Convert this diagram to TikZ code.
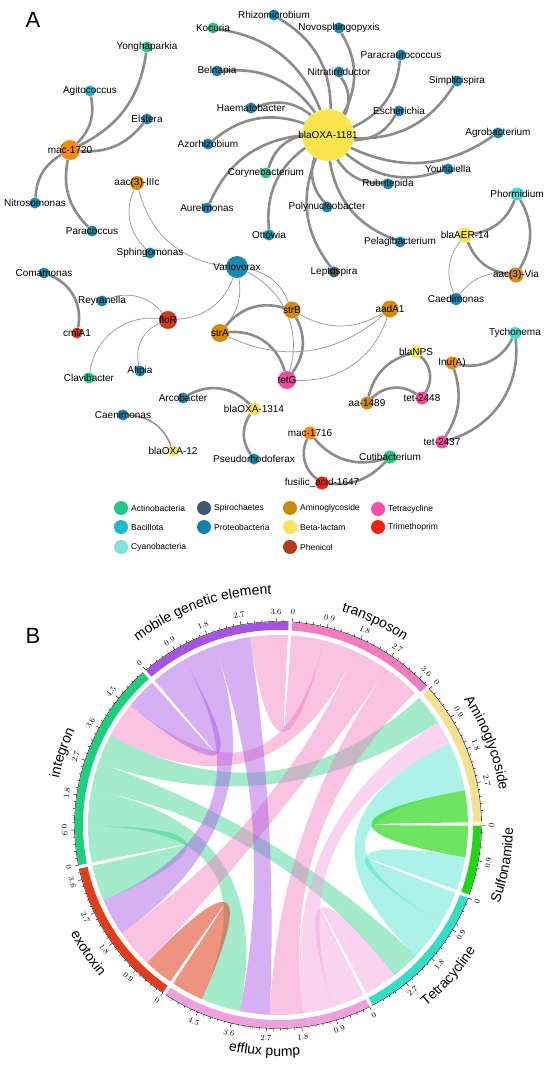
\documentclass[tikz,border=0pt]{standalone}
\usepackage{fontspec}
\setmainfont{Liberation Sans}
\usetikzlibrary{backgrounds,decorations.text,calc}
% legend / node colours
\definecolor{cActino}{HTML}{1FC98A}
\definecolor{cSpiro}{HTML}{3E5A73}
\definecolor{cAmino}{HTML}{C98C0C}
\definecolor{cTetra}{HTML}{F552A6}
\definecolor{cBacil}{HTML}{1BBACF}
\definecolor{cProt}{HTML}{1482A8}
\definecolor{cBeta}{HTML}{FBE35E}
\definecolor{cTrim}{HTML}{F51F0C}
\definecolor{cCyano}{HTML}{7EE2DA}
\definecolor{cPhen}{HTML}{B63A18}
\definecolor{nAmino}{HTML}{D68B0B}
\definecolor{nOrange}{HTML}{F58A0A}
\definecolor{nCyano}{HTML}{3CDFD6}
\definecolor{nBeta}{HTML}{FBE54E}
\definecolor{nTetra}{HTML}{F04A9E}
\definecolor{nPhen}{HTML}{CF3A14}
\definecolor{nRed}{HTML}{F2200C}
\definecolor{nProt}{HTML}{1788AE}
\definecolor{edgegray}{HTML}{8C8C8C}
\definecolor{edgegraylt}{HTML}{9C9C9C}
% chord colours
\definecolor{sMGE}{HTML}{A652E4}
\definecolor{sTrans}{HTML}{F27CBD}
\definecolor{sAmino}{HTML}{F7E08F}
\definecolor{sSulf}{HTML}{1FD80F}
\definecolor{sTet}{HTML}{30E0C6}
\definecolor{sEff}{HTML}{F0A0DD}
\definecolor{sExo}{HTML}{E33C1B}
\definecolor{sInt}{HTML}{1ACF7E}

\tikzset{
  gnode/.style={circle, draw=none, inner sep=0pt},
  lab/.style={font=\fontsize{10}{12}\selectfont, inner sep=0pt, text=black},
  thk/.style={draw=edgegray, line width=2.6pt},
  thn/.style={draw=edgegraylt, line width=0.75pt},
  med/.style={draw=edgegray, line width=1.4pt},
  legdot/.style={circle, draw=none, minimum size=14pt, inner sep=0pt},
  legtext/.style={font=\fontsize{8.5}{10}\selectfont, inner sep=0pt, anchor=west},
  ticklab/.style={font=\fontsize{8}{9}\selectfont, inner sep=0pt},
  axisline/.style={draw=black, line width=0.4pt},
  panellab/.style={font=\fontsize{22}{24}\selectfont, inner sep=0pt}
}
\newcommand{\gn}[6]{%
  \node[gnode, fill=#5, minimum size=#6pt] (#1) at (#2,-#3) {};
  \node[lab] (#1-t) at (#1) {#4};}
\newcommand{\rib}[6]{%
  \fill[#1, fill opacity=#2] (#3:190) arc[start angle=#3, end angle=#4, radius=190]
    .. controls (#4:63.33) and (#5:63.33) .. (#5:190)
    arc[start angle=#5, end angle=#6, radius=190]
    .. controls (#6:63.33) and (#3:63.33) .. (#3:190) -- cycle;}
\newcommand{\chsect}[3]{%
  \fill[#3] (#1:195) arc[start angle=#1, end angle=#2, radius=195] -- (#2:203)
    arc[start angle=#2, end angle=#1, radius=203] -- cycle;}
\newcommand{\sectax}[4]{%
  \draw[axisline] (#1:203.5) arc[start angle=#1, end angle=#2, radius=203.5];
  \foreach \k in {0,...,#3}{%
    \pgfmathsetmacro{\ta}{#1-\k*1.998}%
    \pgfmathtruncatemacro{\mj}{mod(\k,5)==0}%
    \ifnum\mj=1
      \draw[axisline] (\ta:203.5) -- (\ta:207.5);
      \pgfmathsetmacro{\tv}{\k*0.18}%
      \pgfmathsetmacro{\tr}{sin(\ta)>=0 ? \ta-90 : \ta+90}%
      \node[ticklab, rotate=\tr] (#4-\k) at (\ta:213.5) {\pgfmathprintnumber[fixed,precision=1]{\tv}};
    \else
      \draw[axisline] (\ta:203.5) -- (\ta:205.5);
    \fi
  }}
\newcommand{\seclabfont}{\fontsize{14}{16}\selectfont}
\newcommand{\seclabtop}[3]{%
  \path[decorate, decoration={text along path, text align=center, text={|\seclabfont|#3}}]
    ({#1+70}:#2) arc[start angle={#1+70}, end angle={#1-70}, radius=#2];}
\newcommand{\seclabbot}[3]{%
  \path[decorate, decoration={text along path, text align=center, text={|\seclabfont|#3}}]
    ({#1-70}:#2) arc[start angle={#1-70}, end angle={#1+70}, radius=#2];}

\begin{document}
\begin{tikzpicture}[x=1pt,y=1pt]
\useasboundingbox (0,0) rectangle (550,-1067);

\node[panellab] (pA) at (33,-20) {A};
\node[panellab] (pB) at (33,-636) {B};

% ---------------- network nodes ----------------
\gn{hub}{328}{135}{blaOXA-1181}{nBeta}{52}
\gn{kocu}{213}{28}{Kocuria}{cActino}{11}
\gn{rhiz}{274}{15}{Rhizomicrobium}{nProt}{11}
\gn{novo}{339}{28}{Novosphingopyxis}{nProt}{11}
\gn{nitr}{339}{72}{Nitratireductor}{nProt}{11}
\gn{parc}{401}{55}{Paracraurococcus}{nProt}{11}
\gn{simp}{457}{81}{Simplicispira}{nProt}{11}
\gn{esch}{399}{111}{Escherichia}{nProt}{11}
\gn{agro}{498}{133}{Agrobacterium}{nProt}{11}
\gn{youh}{448}{169}{Youhaiella}{nProt}{11}
\gn{rubr}{388}{184}{Rubritepida}{nProt}{11}
\gn{pela}{400}{242}{Pelagibacterium}{nProt}{11}
\gn{poly}{327}{207}{Polynucleobacter}{nProt}{11}
\gn{lept}{334}{272}{Leptospira}{cSpiro}{11}
\gn{otto}{269}{235}{Ottowia}{nProt}{11}
\gn{aure}{207}{208}{Aurelmonas}{nProt}{11}
\gn{cory}{266}{173}{Corynebacterium}{cActino}{11}
\gn{azor}{208}{144}{Azorhizobium}{nProt}{11}
\gn{haem}{251}{108}{Haematobacter}{nProt}{11}
\gn{beln}{217}{71}{Belnapia}{nProt}{11}

\gn{mac1}{70}{150}{mac-1720}{nOrange}{20}
\gn{yong}{147}{47}{Yonghaparkia}{cActino}{11}
\gn{agit}{90}{91}{Agitococcus}{cBacil}{11}
\gn{elst}{147}{119}{Elstera}{nProt}{11}
\gn{nitro}{35}{203}{Nitrosomonas}{nProt}{11}
\gn{parco}{92}{231}{Paracoccus}{nProt}{11}

\gn{aac3}{137}{183}{aac(3)-IIIc}{nAmino}{14}
\gn{sphi}{150}{253}{Sphingomonas}{nProt}{11}
\gn{vari}{237}{267}{Variovorax}{nProt}{22}
\gn{coma}{44}{273}{Comamonas}{nProt}{11}
\gn{reyr}{102}{301}{Reyranella}{nProt}{11}
\gn{flor}{168}{320}{floR}{nPhen}{18}
\gn{cmla}{77}{333}{cmlA1}{nPhen}{11}
\gn{clav}{89}{378}{Clavibacter}{cActino}{11}
\gn{afip}{140}{371}{Afipia}{nProt}{11}
\gn{stra}{220}{333}{strA}{nAmino}{18}
\gn{strb}{292}{310}{strB}{nAmino}{17}
\gn{aada}{390}{309}{aadA1}{nAmino}{17}
\gn{tetg}{287}{380}{tetG}{nTetra}{18}

\gn{blaer}{465}{235}{blaAER-14}{nBeta}{15}
\gn{phor}{517}{194}{Phormidium}{nCyano}{13}
\gn{aac6}{516}{275}{aac(3)-Via}{nAmino}{15}
\gn{caed}{456}{299}{Caedimonas}{nProt}{12}
\gn{tych}{515}{333}{Tychonema}{nCyano}{12}
\gn{blanps}{416}{352}{blaNPS}{nBeta}{12}
\gn{inua}{452}{363}{Inu(A)}{nOrange}{13}
\gn{aa14}{367}{403}{aa-1489}{nAmino}{13}
\gn{tb}{422}{398}{tet-2448}{nTetra}{13}
\gn{ta}{442}{442}{tet-2437}{nTetra}{13}
\gn{mac2}{310}{433}{mac-1716}{nOrange}{13}
\gn{cuti}{390}{457}{Cutibacterium}{cActino}{13}
\gn{fusi}{322}{483}{fusilic\_acid-1647}{nRed}{13}
\gn{arco}{183}{398}{Arcobacter}{nProt}{11}
\gn{oxab}{254}{409}{blaOXA-1314}{nBeta}{13}
\gn{pseu}{254}{459}{Pseudorhodoferax}{nProt}{11}
\gn{caen}{123}{415}{Caenimonas}{nProt}{11}
\gn{oxaa}{173}{451}{blaOXA-12}{nBeta}{11}

% ---------------- network edges ----------------
\begin{scope}[on background layer]
\fill[white] (0,0) rectangle (550,-1067);
\foreach \t in {kocu,rhiz,novo,nitr,parc,simp,esch,agro,youh,rubr,pela,poly,lept,otto,aure,cory,azor,haem,beln}
  \draw[thk] (hub) to[bend right=30] (\t);
\foreach \t in {yong,agit,elst,nitro,parco}
  \draw[thk] (mac1) to[bend right=28] (\t);
\draw[thn] (aac3) to[bend right=35] (sphi);
\draw[thn] (aac3) to[bend right=35] (vari);
\draw[thk] (cmla) to[bend right=40] (coma);
\draw[thn] (flor) to[bend right=36] (reyr);
\draw[thn] (flor) to[bend right=45] (clav);
\draw[thn] (flor) to[bend right=40] (afip);
\draw[thn] (flor) to[bend right=33] (vari);
\draw[thn] (stra) to[bend right=24] (vari);
\draw[thn] (strb) to[bend right=28] (vari);
\draw[thn] (tetg) to[bend right=40] (vari);
\draw[thk] (stra) to[bend left=33] (strb);
\draw[thk] (stra) to[bend left=40] (tetg);
\draw[thk] (strb) to[bend left=32] (tetg);
\draw[thn] (strb) to[bend right=30] (aada);
\draw[thn] (stra) to[bend right=33] (aada);
\draw[thn] (tetg) to[bend right=37] (aada);
\draw[thk] (blaer) to[bend right=30] (phor);
\draw[thk] (aac6) to[bend right=30] (phor);
\draw[thk] (blaer) to[bend right=30] (aac6);
\draw[thn] (blaer) to[bend right=30] (caed);
\draw[thn] (aac6) to[bend right=30] (caed);
\draw[thk] (inua) to[bend right=38] (tych);
\draw[thk] (ta) to[bend right=40] (tych);
\draw[thk] (ta) to[bend right=25] (inua);
\draw[thk] (blanps) to[bend right=30] (aa14);
\draw[thk] (tb) to[bend right=40] (blanps);
\draw[thk] (tb) to[bend right=40] (aa14);
\draw[thk] (mac2) to[bend right=34] (cuti);
\draw[thk] (mac2) to[bend right=39] (fusi);
\draw[thk] (fusi) to[bend right=26] (cuti);
\draw[thk] (oxab) to[bend right=38] (arco);
\draw[thk] (oxab) to[bend right=35] (pseu);
\draw[med] (oxaa) to[bend right=33] (caen);
\end{scope}

% ---------------- legend ----------------
\foreach \n/\x/\y/\c/\t in {a/121/508/cActino/Actinobacteria, b/204/508/cSpiro/Spirochaetes,
   c/290/508/cAmino/Aminoglycoside, d/378/509/cTetra/Tetracycline,
   e/121/527/cBacil/Bacillota, f/204/527/cProt/Proteobacteria,
   g/290/527/cBeta/Beta-lactam, h/378/527/cTrim/Trimethoprim,
   i/121/547/cCyano/Cyanobacteria, j/290/547/cPhen/Phenicol}{
  \node[legdot, fill=\c] (lg\n) at (\x,-\y) {};
  \node[legtext] (lt\n) at (\x+10,-\y) {\t};
}

% ---------------- chord diagram ----------------
\begin{scope}[shift={(278,-825)}]
% ribbons
\rib{sInt}{0.4}{191.4}{180.4}{-156.6}{-167.6}
\rib{sInt}{0.4}{180.4}{169.4}{-101.6}{-113.6}
\rib{sInt}{0.4}{169.4}{160.9}{-43.5}{-52.2}
\rib{sInt}{0.4}{160.9}{152}{42}{32.7}
\rib{sExo}{0.55}{-124.5}{-133.5}{-113.6}{-123.5}
\rib{sEff}{0.45}{-63.3}{-73.3}{-52.2}{-62.3}
\rib{sEff}{0.45}{-73.3}{-82.4}{32.7}{25.3}
\rib{sTet}{0.4}{-21}{-31}{-9.8}{-20}
\rib{sTet}{0.4}{-31}{-43.5}{25.3}{10.5}
\rib{sSulf}{0.65}{-0.2}{-9.8}{10.5}{0.8}
\rib{sTrans}{0.45}{86}{76}{98.5}{87}
\rib{sTrans}{0.45}{76}{66}{152}{141}
\rib{sTrans}{0.45}{66}{55}{-133.5}{-145.4}
\rib{sTrans}{0.45}{55}{44}{-82.4}{-92.5}
\rib{sMGE}{0.45}{130.5}{119.5}{141}{131.5}
\rib{sMGE}{0.45}{119.5}{109.5}{-145.4}{-156.6}
\rib{sMGE}{0.45}{109.5}{98.5}{-92.5}{-101.6}
% ring
\chsect{130.5}{87}{sMGE}
\chsect{86}{43}{sTrans}
\chsect{42}{0.8}{sAmino}
\chsect{-0.2}{-20}{sSulf}
\chsect{-21}{-62.3}{sTet}
\chsect{-63.3}{-123.5}{sEff}
\chsect{-124.5}{-167.6}{sExo}
\chsect{191.4}{131.5}{sInt}
% axes
\sectax{130.5}{87}{21}{m}
\sectax{86}{43}{21}{t}
\sectax{42}{0.8}{19}{a}
\sectax{-0.2}{-20}{9}{s}
\sectax{-21}{-62.3}{19}{c}
\sectax{-63.3}{-123.5}{29}{e}
\sectax{-124.5}{-167.6}{21}{x}
\sectax{191.4}{131.5}{29}{i}
% sector names
\seclabtop{109.5}{231}{mobile genetic element}
\seclabtop{64.5}{223}{transposon}
\seclabtop{21.4}{224}{Aminoglycoside}
\seclabbot{-10.1}{235}{Sulfonamide}
\seclabbot{-41.6}{234}{Tetracycline}
\seclabbot{-93.4}{231}{efflux pump}
\seclabbot{-146}{234}{exotoxin}
\seclabtop{161.5}{224}{integron}
\end{scope}
\end{tikzpicture}
\end{document}
